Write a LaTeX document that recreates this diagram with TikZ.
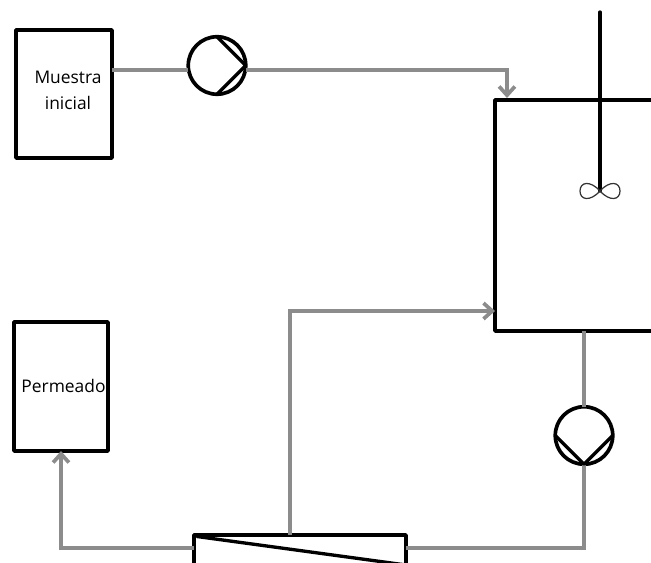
\documentclass[tikz,border=0pt]{standalone}
\usepackage{fontspec}
\setmainfont{Open Sans}
\usetikzlibrary{arrows.meta}
\begin{document}
\begin{tikzpicture}[x=0.02cm, y=-0.02cm, font=\fontsize{9.9}{14.7}\selectfont, line join=round, line cap=round,
	>={Straight Barb[length=5pt,width=9pt]},
	caja/.style={draw=black, line width=2.1pt, inner sep=0pt, outer sep=0pt},
	texto/.style={inner sep=0pt, align=center},
	bomba/.style={circle, draw=black, line width=2.1pt, inner sep=0pt, outer sep=0pt, minimum size=1.15cm},
	tubo/.style={draw=gray!90, line width=2.1pt, line cap=butt, line join=miter},
	negro/.style={draw=black, line width=1.9pt}]
	\useasboundingbox (0,0) rectangle (651,563);
	\clip (0,0) rectangle (651,563);
	\node[caja, minimum width=1.92cm, minimum height=2.56cm] (muestra) at (64,94) {};
	\node[caja, minimum width=1.88cm, minimum height=2.58cm] (permeado) at (61,386.5) {};
	\node[caja, minimum width=4.1cm, minimum height=4.62cm] (reactor) at (597.5,215.5) {};
	\node[caja, minimum width=4.24cm, minimum height=0.68cm] (membrana) at (300,552) {};
	\node[texto] (textomuestra) at (68,90) {Muestra\\inicial};
	\node[texto] (textopermeado) at (63.5,386) {Permeado};
	\node[bomba] (bomba1) at (217,65.5) {};
	\node[bomba] (bomba2) at (584,435.5) {};
	\coordinate (codo1) at (507,70);
	\coordinate (entrada) at (507,98);
	\coordinate (retorno) at (290,311);
	\coordinate (salida) at (290,535);
	\coordinate (eje1) at (600,12);
	\coordinate (eje2) at (600,191);
	\coordinate (iniciomembrana) at (197,536.5);
	\coordinate (finmembrana) at (406,565);
	% tuberias
	\draw[tubo] (muestra.east |- codo1) -- (bomba1.west |- codo1);
	\draw[tubo,->] (bomba1.east |- codo1) -- (codo1) -- (entrada);
	\draw[tubo,->] (salida) -- (retorno) -- (retorno -| reactor.west);
	\draw[tubo,->] (membrana.west |- 0,548) -- (permeado.south |- 0,548) -- (permeado.south);
	\draw[tubo] (membrana.east |- 0,548) -- (bomba2.south |- 0,548) -- (bomba2.south);
	\draw[tubo] (bomba2.north) -- (bomba2.north |- reactor.south);
	% bombas
	\draw[negro] (bomba1.north) -- (bomba1.east) -- (bomba1.south);
	\draw[negro] (bomba2.west) -- (bomba2.south) -- (bomba2.east);
	% membrana
	\draw[negro] (iniciomembrana) -- (finmembrana);
	% agitador
	\draw[negro] (eje1) -- (eje2);
	\draw[line width=0.7pt, draw=black!80] (eje2) .. controls (590,180) and (580,182) .. (580,191)
		.. controls (580,200) and (590,202) .. (eje2)
		.. controls (610,180) and (620,182) .. (620,191)
		.. controls (620,200) and (610,202) .. (eje2);
\end{tikzpicture}
\end{document}
